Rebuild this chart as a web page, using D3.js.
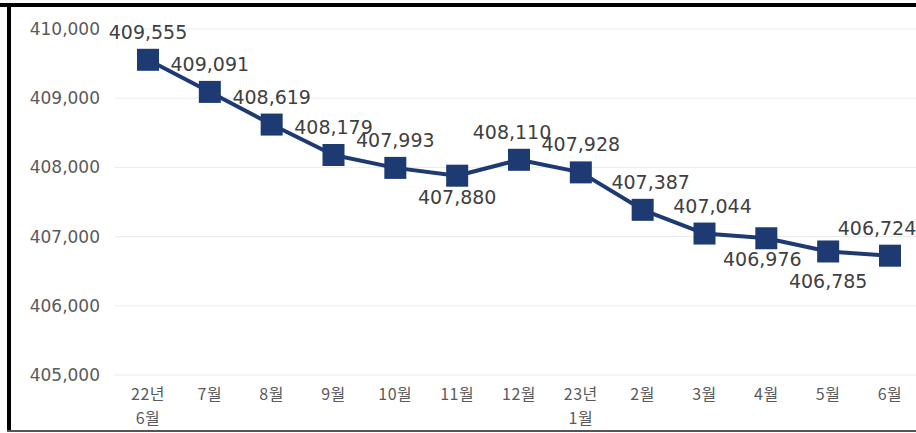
<!DOCTYPE html>
<html>
<head>
<meta charset="utf-8">
<script src="https://cdn.jsdelivr.net/npm/d3@7"></script>
<style>
  body { margin: 0; background: #fff; }
  svg { display: block; font-family: "DejaVu Sans", "Noto Sans CJK KR", sans-serif; }
</style>
</head>
<body>
<div id="chart"></div>
<script>
// data
var months = ["22년|6월", "7월", "8월", "9월", "10월", "11월", "12월", "23년|1월", "2월", "3월", "4월", "5월", "6월"];
var values = [409555, 409091, 408619, 408179, 407993, 407880, 408110, 407928, 407387, 407044, 406976, 406785, 406724];
var yTicks = [405000, 406000, 407000, 408000, 409000, 410000];
// label sits above (1) or below (-1) its marker
var labelSide = [1, 1, 1, 1, 1, -1, 1, 1, 1, 1, -1, -1, 1];

var width = 916, height = 433;
var fmt = d3.format(",");

var svg = d3.select("#chart").append("svg")
    .attr("width", width)
    .attr("height", height);

// frame
svg.append("rect").attr("x", 0).attr("y", 3).attr("width", width).attr("height", 4).attr("fill", "#000");
svg.append("rect").attr("x", 7).attr("y", 3).attr("width", 4).attr("height", 428).attr("fill", "#000");
svg.append("rect").attr("x", 7).attr("y", 430).attr("width", width).attr("height", 2).attr("fill", "#555");

var x = d3.scalePoint()
    .domain(months)
    .range([148, 890]);

var y = d3.scaleLinear()
    .domain([405000, 410000])
    .range([375, 29]);

// grid
svg.append("g").selectAll("line")
    .data(yTicks)
  .enter().append("line")
    .attr("x1", 115).attr("x2", width)
    .attr("y1", function(d) { return y(d); })
    .attr("y2", function(d) { return y(d); })
    .attr("stroke", "#ebebeb")
    .attr("stroke-width", 1);

// y axis labels
var yAxis = d3.axisLeft(y).tickValues(yTicks).tickFormat(fmt).tickSize(0).tickPadding(0);
var gy = svg.append("g").attr("transform", "translate(100,0)").call(yAxis);
gy.select(".domain").remove();
gy.selectAll("text")
    .attr("font-size", 17)
    .attr("fill", "#5a5a5a")
    .attr("font-family", "'DejaVu Sans', sans-serif");

// x axis labels, one text per line
var xLines = [];
months.forEach(function(m) {
  m.split("|").forEach(function(p, i) { xLines.push({ m: m, t: p, row: i }); });
});
svg.append("g").selectAll("text")
    .data(xLines)
  .enter().append("text")
    .attr("x", function(d) { return x(d.m); })
    .attr("y", function(d) { return 400 + d.row * 24; })
    .attr("text-anchor", "middle")
    .attr("font-family", "'Noto Sans CJK KR', sans-serif")
    .attr("font-size", 16)
    .attr("letter-spacing", 0.5)
    .attr("fill", "#5a5a5a")
    .text(function(d) { return d.t; });

var pts = months.map(function(m, i) { return { m: m, v: values[i], side: labelSide[i] }; });

// line
var line = d3.line()
    .x(function(d) { return x(d.m); })
    .y(function(d) { return y(d.v); });

svg.append("path")
    .datum(pts)
    .attr("d", line)
    .attr("fill", "none")
    .attr("stroke", "#1d3a72")
    .attr("stroke-width", 4)
    .attr("stroke-linejoin", "round");

// markers
var ms = 22;
svg.append("g").selectAll("rect")
    .data(pts)
  .enter().append("rect")
    .attr("x", function(d) { return x(d.m) - ms / 2; })
    .attr("y", function(d) { return y(d.v) - ms / 2; })
    .attr("width", ms)
    .attr("height", ms)
    .attr("fill", "#1d3a72");

// data labels
svg.append("g").selectAll("text")
    .data(pts)
  .enter().append("text")
    .attr("x", function(d, i) {
      var nudge = 0;
      if (i === 6) nudge = -7;
      if (i === 8 || i === 9) nudge = 8;
      if (i === 10) nudge = -4;
      if (i === 12) nudge = -13;
      return x(d.m) + nudge;
    })
    .attr("y", function(d, i) {
      if (d.side > 0) return y(d.v) - 21;
      return y(d.v) + (i === 11 ? 37 : 28);
    })
    .attr("text-anchor", "middle")
    .attr("font-size", 19)
    .attr("fill", "#404040")
    .text(function(d) { return fmt(d.v); });
</script>
</body>
</html>
